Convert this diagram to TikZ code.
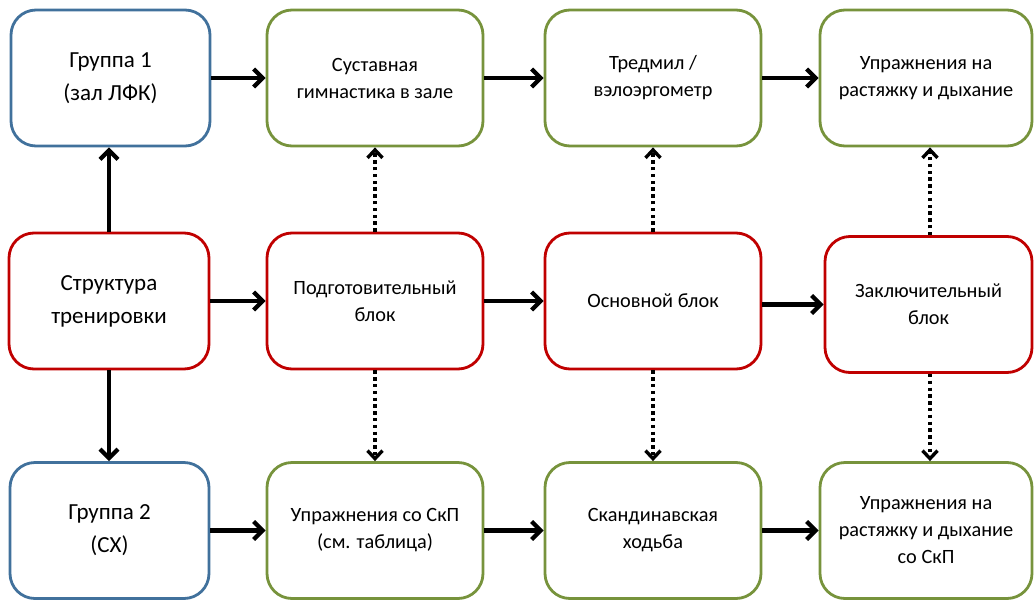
\documentclass[tikz,border=0pt]{standalone}
\usepackage{fontspec}
\setmainfont{Carlito}
\usetikzlibrary{arrows.meta}
\definecolor{cblue}{HTML}{41719C}
\definecolor{cgreen}{HTML}{77933C}
\definecolor{cred}{HTML}{C00000}
\begin{document}
\begin{tikzpicture}[x=1pt,y=-1pt,
  box/.style={draw,line width=2.8pt,rounded corners=25pt,fill=white,align=center,inner sep=0pt},
  bluebox/.style={box,draw=cblue,minimum width=199pt,minimum height=136pt,font=\fontsize{23}{33}\selectfont},
  greenbox/.style={box,draw=cgreen,minimum width=216pt,minimum height=136pt,font=\fontsize{20.3}{27}\selectfont},
  redbox/.style={box,draw=cred,minimum width=216pt,minimum height=136pt,font=\fontsize{20.3}{27}\selectfont},
  arr/.style={line width=4.6pt,-{Straight Barb[length=9pt,width=18pt,line width=4.2pt]}},
  darr/.style={line width=3.6pt,dash pattern=on 3.4pt off 3.4pt,-{Straight Barb[length=8pt,width=15pt,line width=3.4pt]}}]
\useasboundingbox (0,0) rectangle (1034,600);
% row 1
\node[bluebox] (g1) at (110.5,78) {Группа 1\\(зал ЛФК)};
\node[greenbox] (a1) at (375,78) {Суставная\\гимнастика в зале};
\node[greenbox] (a2) at (653,78) {Тредмил /\\вэлоэргометр};
\node[greenbox,minimum width=212pt] (a3) at (926,78) {Упражнения на\\растяжку и дыхание};
% row 2
\node[redbox,minimum width=200pt,font=\fontsize{23}{33}\selectfont] (s) at (109,301) {Структура\\тренировки};
\node[redbox] (p) at (375,301) {Подготовительный\\блок};
\node[redbox] (m) at (653,301) {Основной блок};
\node[redbox,minimum width=207pt] (z) at (928.5,304.5) {Заключительный\\блок};
% row 3
\node[bluebox] (g2) at (109.5,530.5) {Группа 2\\(СХ)};
\node[greenbox] (b1) at (375,530.5) {Упражнения со СкП\\(см. таблица)};
\node[greenbox] (b2) at (653,530.5) {Скандинавская\\ходьба};
\node[greenbox,minimum width=212pt] (b3) at (926,530.5) {Упражнения на\\растяжку и дыхание\\со СкП};
% solid arrows
\draw[arr] (g1.east) -- (a1.west);
\draw[arr] (a1.east) -- (a2.west);
\draw[arr] (a2.east) -- (a3.west);
\draw[arr] (s.east) -- (p.west);
\draw[arr] (p.east) -- (m.west);
\draw[arr] (m.east |- z.west) -- (z.west);
\draw[arr] (g2.east) -- (b1.west);
\draw[arr] (b1.east) -- (b2.west);
\draw[arr] (b2.east) -- (b3.west);
\draw[arr] (s.north) -- (s.north |- g1.south);
\draw[arr] (s.south) -- (s.south |- g2.north);
% dotted arrows
\draw[darr] (p.north) -- (p.north |- a1.south);
\draw[darr] (p.south) -- (p.south |- b1.north);
\draw[darr] (m.north) -- (m.north |- a2.south);
\draw[darr] (m.south) -- (m.south |- b2.north);
\draw[darr] ([xshift=1.5pt]z.north) -- ([xshift=1.5pt]z.north |- a3.south);
\draw[darr] ([xshift=1.5pt]z.south) -- ([xshift=1.5pt]z.south |- b3.north);
\end{tikzpicture}
\end{document}
